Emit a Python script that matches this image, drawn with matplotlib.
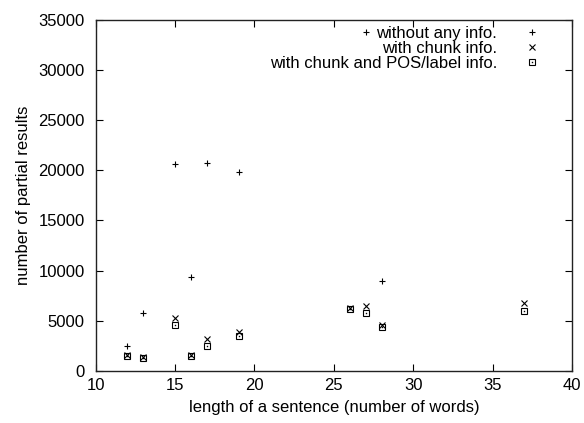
import matplotlib
matplotlib.use("Agg")
import matplotlib.pyplot as plt

plt.rcParams['font.family'] = ['Liberation Sans', 'DejaVu Sans']

# without any info.
x_none = [12, 13, 15, 16, 17, 19, 27, 28]
y_none = [2500, 5800, 20600, 9400, 20700, 19850, 33800, 9000]
# with chunk info.
x_chunk = [12, 13, 15, 16, 17, 19, 26, 27, 28, 37]
y_chunk = [1600, 1400, 5250, 1600, 3150, 3900, 6300, 6500, 4600, 6800]
# with chunk and POS/label info.
x_pos = [12, 13, 15, 16, 17, 19, 26, 27, 28, 37]
y_pos = [1500, 1300, 4600, 1500, 2450, 3500, 6200, 5800, 4350, 6000]

labels = ["without any info.", "with chunk info.", "with chunk and POS/label info."]
xticks = [10, 15, 20, 25, 30, 35, 40]
yticks = [0, 5000, 10000, 15000, 20000, 25000, 30000, 35000]

fig = plt.figure(figsize=(5.84, 4.23), dpi=100)
ax = fig.add_axes([0.1639, 0.1229, 0.9795 - 0.1639, 0.9539 - 0.1229])

h1, = ax.plot(x_none, y_none, linestyle='none', marker='+', markersize=5,
              markeredgewidth=0.8, color='black')
h2, = ax.plot(x_chunk, y_chunk, linestyle='none', marker='x', markersize=4,
              markeredgewidth=0.8, color='black')
h3, = ax.plot(x_pos, y_pos, linestyle='none', marker='s', markersize=4.8,
              markeredgewidth=0.8, markerfacecolor='none', color='black')
h3b, = ax.plot(x_pos, y_pos, linestyle='none', marker='s', markersize=1.0,
               markeredgewidth=0, color='black')

ax.set_xlim(10, 40)
ax.set_ylim(0, 35000)
ax.set_xticks(xticks)
ax.set_yticks(yticks)
ax.tick_params(direction='in', length=5, width=0.8, top=True, right=True,
               labelsize=12, colors='black', pad=5)
ax.tick_params(axis='y', pad=8)
for s in ax.spines.values():
    s.set_linewidth(1.0)
    s.set_color('#222222')

ax.set_xlabel("length of a sentence (number of words)", fontsize=12, labelpad=5)
ax.set_ylabel("number of partial results", fontsize=12, labelpad=5)

leg = ax.legend([h1, h2, (h3, h3b)], labels, loc='upper right', frameon=False,
                markerfirst=False, alignment='right', fontsize=12,
                handlelength=1.0, handletextpad=1.6, labelspacing=0.0,
                borderaxespad=0.2, bbox_to_anchor=(0.955, 1.01))

fig.savefig("out.png", dpi=100)
